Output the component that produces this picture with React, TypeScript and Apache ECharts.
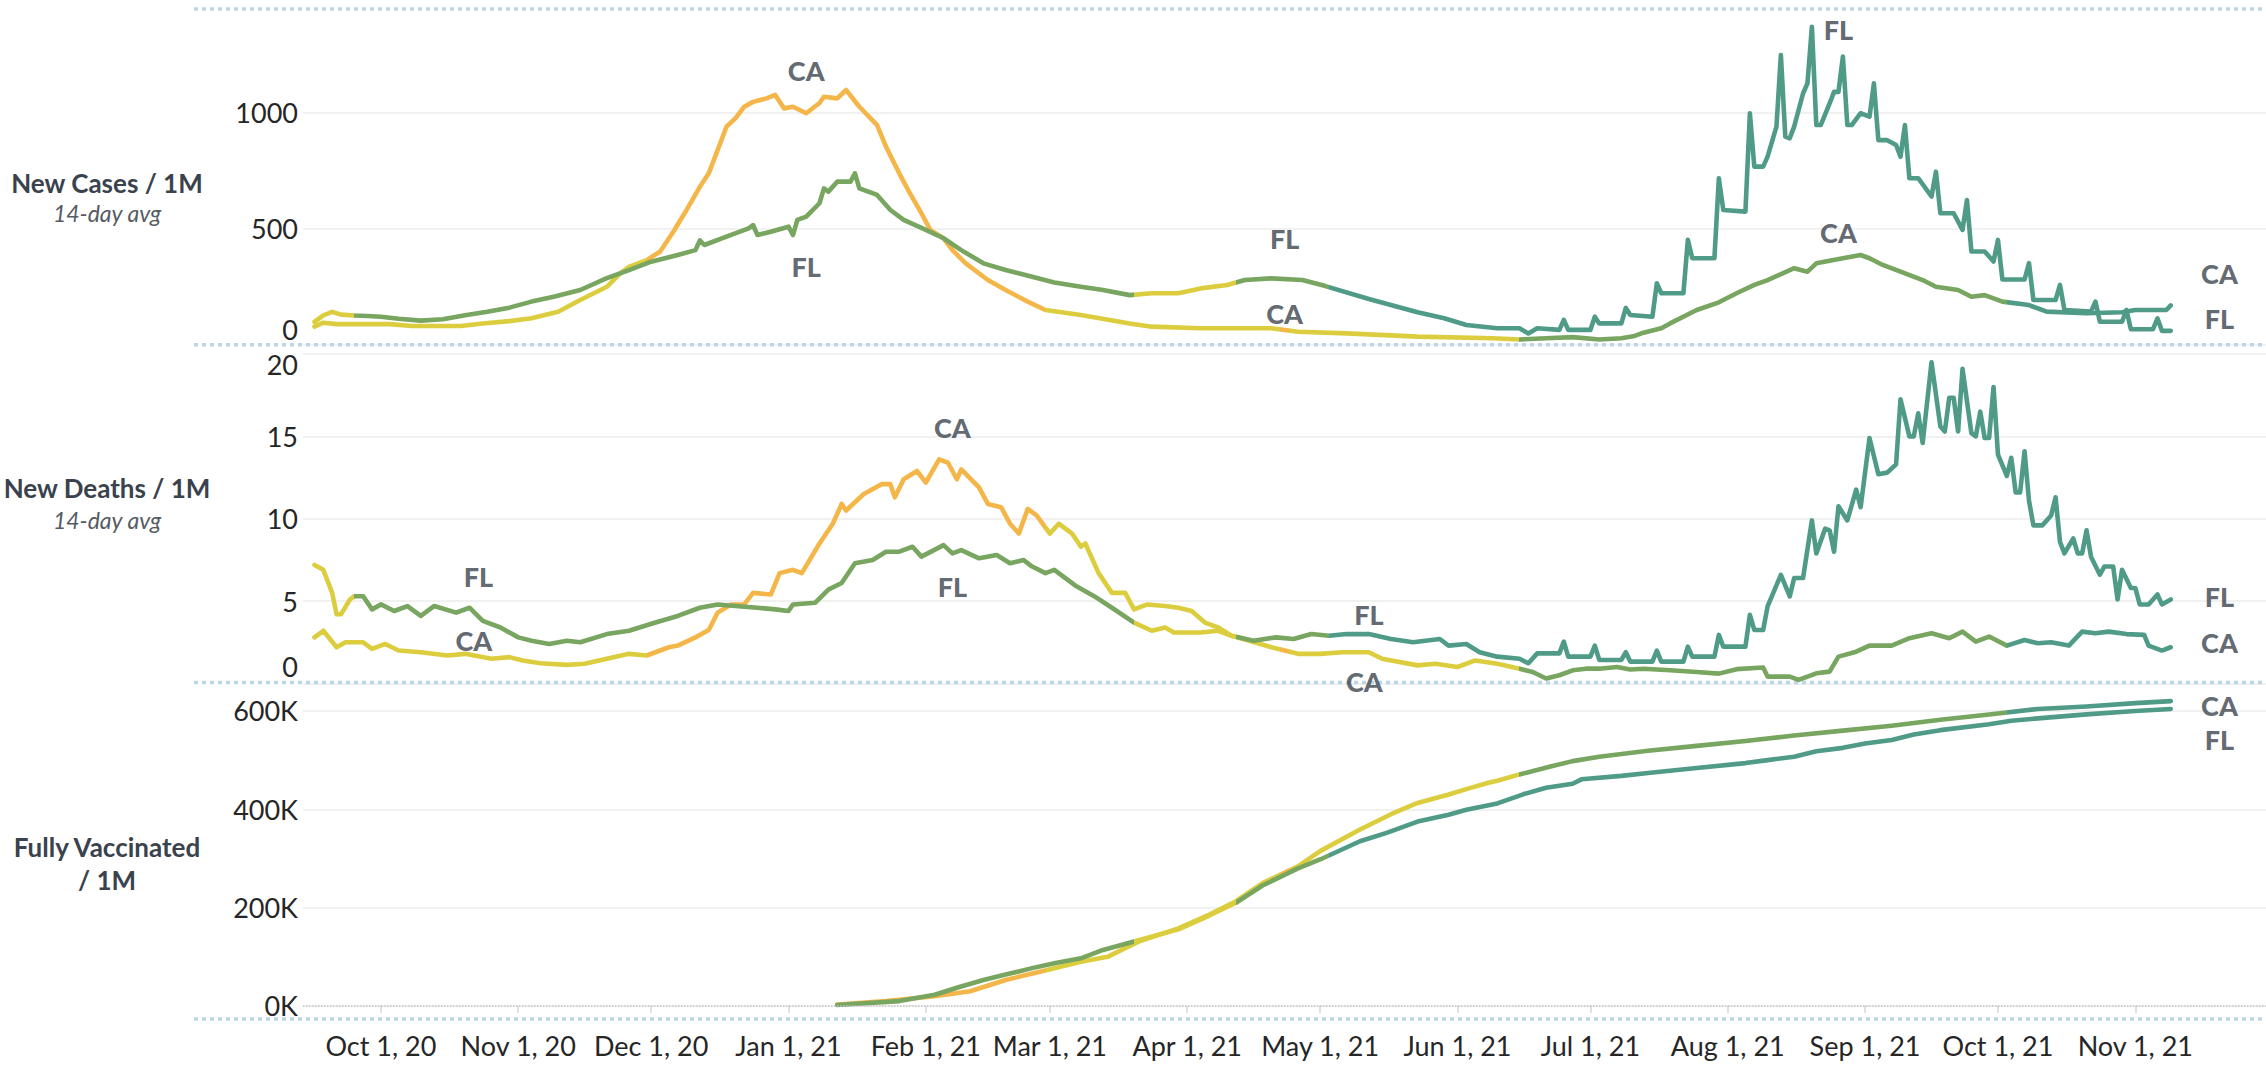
import React, { useEffect, useRef } from 'react';
import * as echarts from 'echarts';

const MONTHS = ['Jan', 'Feb', 'Mar', 'Apr', 'May', 'Jun', 'Jul', 'Aug', 'Sep', 'Oct', 'Nov', 'Dec'];
const monthTicks = ['2020-10-01', '2020-11-01', '2020-12-01', '2021-01-01', '2021-02-01', '2021-03-01', '2021-04-01', '2021-05-01', '2021-06-01', '2021-07-01', '2021-08-01', '2021-09-01', '2021-10-01', '2021-11-01'];
const casesTicks = [0, 500, 1000];
const deathsTicks = [0, 5, 10, 15, 20];
const vaccTicks = [0, 200, 400, 600];

// New cases per 1M (14-day avg)
const caCases: [string, number][] = [
  ['2020-09-16', 76], ['2020-09-18', 93], ['2020-09-21', 87], ['2020-09-28', 87], ['2020-10-03', 87], ['2020-10-08', 79], ['2020-10-15', 79], ['2020-10-19', 79], ['2020-10-24', 90], ['2020-10-30', 100], ['2020-11-04', 112], ['2020-11-10', 140], ['2020-11-15', 191], ['2020-11-21', 248], ['2020-11-24', 306], ['2020-11-26', 334], ['2020-11-30', 363], ['2020-12-03', 399], ['2020-12-06', 485], ['2020-12-09', 579], ['2020-12-12', 679], ['2020-12-14', 737], ['2020-12-16', 837], ['2020-12-18', 938], ['2020-12-20', 974], ['2020-12-22', 1024], ['2020-12-24', 1045], ['2020-12-27', 1060], ['2020-12-29', 1075], ['2020-12-31', 1017], ['2021-01-02', 1024], ['2021-01-05', 996], ['2021-01-08', 1040], ['2021-01-09', 1067], ['2021-01-12', 1060], ['2021-01-14', 1096], ['2021-01-17', 1024], ['2021-01-21', 945], ['2021-01-23', 852], ['2021-01-26', 737], ['2021-01-28', 665], ['2021-01-31', 565], ['2021-02-02', 493], ['2021-02-05', 457], ['2021-02-07', 406], ['2021-02-10', 349], ['2021-02-15', 277], ['2021-02-19', 234], ['2021-02-24', 184], ['2021-02-28', 148], ['2021-03-08', 126], ['2021-03-19', 90], ['2021-03-24', 76], ['2021-04-04', 69], ['2021-04-15', 69], ['2021-04-20', 69], ['2021-04-26', 54], ['2021-05-07', 47], ['2021-05-23', 33], ['2021-06-09', 26], ['2021-06-15', 21], ['2021-06-21', 26], ['2021-06-27', 31], ['2021-07-03', 21], ['2021-07-08', 26], ['2021-07-11', 36], ['2021-07-13', 50], ['2021-07-17', 69], ['2021-07-19', 90], ['2021-07-25', 148], ['2021-07-30', 181], ['2021-08-03', 220], ['2021-08-07', 256], ['2021-08-10', 277], ['2021-08-16', 328], ['2021-08-19', 313], ['2021-08-21', 349], ['2021-08-27', 371], ['2021-08-31', 385], ['2021-09-02', 371], ['2021-09-05', 342], ['2021-09-09', 313], ['2021-09-14', 277], ['2021-09-17', 248], ['2021-09-22', 234], ['2021-09-25', 205], ['2021-09-28', 212], ['2021-10-02', 184], ['2021-10-08', 169], ['2021-10-12', 141], ['2021-10-21', 134], ['2021-10-29', 138], ['2021-11-01', 148], ['2021-11-08', 148], ['2021-11-09', 168],
];
const flCases: [string, number][] = [
  ['2020-09-16', 97], ['2020-09-18', 125], ['2020-09-20', 140], ['2020-09-22', 128], ['2020-09-25', 124], ['2020-09-28', 122], ['2020-10-01', 119], ['2020-10-05', 110], ['2020-10-10', 102], ['2020-10-15', 108], ['2020-10-20', 125], ['2020-10-25', 140], ['2020-10-30', 158], ['2020-11-04', 184], ['2020-11-09', 205], ['2020-11-15', 234], ['2020-11-21', 285], ['2020-11-26', 320], ['2020-12-01', 356], ['2020-12-07', 385], ['2020-12-11', 406], ['2020-12-12', 448], ['2020-12-13', 428], ['2020-12-18', 464], ['2020-12-23', 500], ['2020-12-24', 514], ['2020-12-25', 471], ['2020-12-28', 485], ['2021-01-01', 507], ['2021-01-02', 471], ['2021-01-03', 536], ['2021-01-05', 550], ['2021-01-08', 608], ['2021-01-09', 672], ['2021-01-10', 658], ['2021-01-12', 701], ['2021-01-15', 701], ['2021-01-16', 737], ['2021-01-17', 672], ['2021-01-21', 644], ['2021-01-24', 579], ['2021-01-27', 536], ['2021-02-01', 493], ['2021-02-05', 457], ['2021-02-09', 406], ['2021-02-14', 349], ['2021-02-19', 320], ['2021-02-25', 291], ['2021-03-02', 266], ['2021-03-08', 248], ['2021-03-13', 234], ['2021-03-19', 212], ['2021-03-24', 220], ['2021-03-30', 220], ['2021-04-04', 241], ['2021-04-10', 256], ['2021-04-14', 277], ['2021-04-20', 284], ['2021-04-27', 277], ['2021-05-02', 252], ['2021-05-12', 195], ['2021-05-23', 138], ['2021-05-29', 112], ['2021-06-03', 83], ['2021-06-10', 69],
  ['2021-06-15', 69], ['2021-06-17', 47], ['2021-06-19', 69], ['2021-06-24', 62], ['2021-06-25', 105], ['2021-06-26', 62], ['2021-07-01', 62], ['2021-07-02', 119], ['2021-07-03', 90], ['2021-07-08', 90], ['2021-07-09', 157], ['2021-07-10', 126], ['2021-07-15', 119], ['2021-07-16', 263], ['2021-07-17', 220], ['2021-07-22', 220], ['2021-07-23', 450], ['2021-07-24', 371], ['2021-07-29', 371], ['2021-07-30', 716], ['2021-07-31', 579], ['2021-08-05', 572], ['2021-08-06', 996], ['2021-08-07', 766], ['2021-08-09', 766], ['2021-08-10', 809], ['2021-08-12', 938], ['2021-08-13', 1247], ['2021-08-14', 895], ['2021-08-15', 888], ['2021-08-16', 938], ['2021-08-18', 1081], ['2021-08-19', 1125], ['2021-08-20', 1369], ['2021-08-21', 945], ['2021-08-22', 945], ['2021-08-24', 1038], ['2021-08-25', 1088], ['2021-08-26', 1088], ['2021-08-27', 1240], ['2021-08-28', 945], ['2021-08-29', 945], ['2021-08-31', 996], ['2021-09-02', 981], ['2021-09-03', 1125], ['2021-09-04', 880], ['2021-09-06', 880], ['2021-09-08', 859], ['2021-09-09', 809], ['2021-09-10', 945], ['2021-09-11', 716], ['2021-09-13', 716], ['2021-09-16', 637], ['2021-09-17', 744], ['2021-09-18', 565], ['2021-09-21', 565], ['2021-09-23', 493], ['2021-09-24', 622], ['2021-09-25', 400], ['2021-09-28', 400], ['2021-09-30', 357], ['2021-10-01', 450], ['2021-10-02', 279], ['2021-10-07', 279], ['2021-10-08', 350], ['2021-10-09', 191], ['2021-10-14', 191], ['2021-10-15', 256], ['2021-10-16', 148], ['2021-10-22', 141], ['2021-10-23', 184], ['2021-10-24', 97], ['2021-10-29', 97], ['2021-10-30', 148], ['2021-10-31', 65], ['2021-11-05', 65], ['2021-11-06', 112], ['2021-11-07', 58], ['2021-11-09', 58],
];

// New deaths per 1M (14-day avg)
const caDeaths: [string, number][] = [
  ['2020-09-16', 2.8], ['2020-09-18', 3.2], ['2020-09-21', 2.2], ['2020-09-23', 2.5], ['2020-09-27', 2.5], ['2020-09-29', 2.1], ['2020-10-02', 2.4], ['2020-10-05', 2.0], ['2020-10-10', 1.9], ['2020-10-16', 1.7], ['2020-10-20', 1.8], ['2020-10-26', 1.5], ['2020-10-30', 1.6], ['2020-11-02', 1.4], ['2020-11-06', 1.23], ['2020-11-12', 1.13], ['2020-11-16', 1.2], ['2020-11-21', 1.5], ['2020-11-26', 1.8], ['2020-11-30', 1.7], ['2020-12-05', 2.2], ['2020-12-07', 2.3], ['2020-12-11', 2.8], ['2020-12-14', 3.25], ['2020-12-16', 4.3], ['2020-12-19', 4.8], ['2020-12-22', 4.8], ['2020-12-24', 5.5], ['2020-12-28', 5.4], ['2020-12-30', 6.7], ['2021-01-02', 6.9], ['2021-01-04', 6.7], ['2021-01-08', 8.5], ['2021-01-11', 9.7], ['2021-01-13', 10.9], ['2021-01-14', 10.5], ['2021-01-18', 11.5], ['2021-01-22', 12.1], ['2021-01-24', 12.1], ['2021-01-25', 11.3], ['2021-01-27', 12.4], ['2021-01-30', 12.9], ['2021-02-01', 12.2], ['2021-02-04', 13.6], ['2021-02-06', 13.4], ['2021-02-08', 12.4], ['2021-02-09', 13.0], ['2021-02-13', 11.9], ['2021-02-15', 10.9], ['2021-02-18', 10.7], ['2021-02-20', 9.7], ['2021-02-22', 9.1], ['2021-02-24', 10.6], ['2021-02-26', 10.2], ['2021-03-01', 9.1], ['2021-03-03', 9.7], ['2021-03-06', 9.1], ['2021-03-08', 8.3], ['2021-03-09', 8.5], ['2021-03-12', 6.7], ['2021-03-15', 5.5], ['2021-03-18', 5.5], ['2021-03-20', 4.5], ['2021-03-23', 4.8], ['2021-03-27', 4.7], ['2021-03-30', 4.6], ['2021-04-02', 4.4], ['2021-04-05', 3.7], ['2021-04-08', 3.4], ['2021-04-11', 2.9], ['2021-04-15', 2.6], ['2021-04-20', 2.2], ['2021-04-26', 1.8], ['2021-05-01', 1.8], ['2021-05-06', 1.9], ['2021-05-12', 1.9], ['2021-05-15', 1.5], ['2021-05-23', 1.1], ['2021-05-27', 1.2], ['2021-06-01', 1.0], ['2021-06-05', 1.4], ['2021-06-10', 1.2], ['2021-06-15', 0.9], ['2021-06-18', 0.7], ['2021-06-21', 0.3], ['2021-06-24', 0.5], ['2021-06-27', 0.8], ['2021-06-30', 0.9], ['2021-07-03', 0.9], ['2021-07-07', 1.0], ['2021-07-10', 0.85], ['2021-07-13', 0.9], ['2021-07-19', 0.8], ['2021-07-25', 0.7], ['2021-07-30', 0.6], ['2021-08-03', 0.87], ['2021-08-09', 0.97], ['2021-08-10', 0.42], ['2021-08-15', 0.42], ['2021-08-17', 0.22], ['2021-08-21', 0.62], ['2021-08-24', 0.72], ['2021-08-26', 1.63], ['2021-08-30', 1.93], ['2021-09-02', 2.3], ['2021-09-07', 2.3], ['2021-09-11', 2.75], ['2021-09-16', 3.05], ['2021-09-20', 2.75], ['2021-09-23', 3.15], ['2021-09-26', 2.54], ['2021-09-29', 2.85], ['2021-10-03', 2.3], ['2021-10-07', 2.64], ['2021-10-10', 2.44], ['2021-10-13', 2.5], ['2021-10-17', 2.3], ['2021-10-20', 3.15], ['2021-10-23', 3.05], ['2021-10-26', 3.15], ['2021-10-30', 3.0], ['2021-11-03', 2.95], ['2021-11-04', 2.3], ['2021-11-07', 2.0], ['2021-11-09', 2.2],
];
const flDeaths: [string, number][] = [
  ['2020-09-16', 7.2], ['2020-09-18', 6.9], ['2020-09-20', 5.5], ['2020-09-21', 4.2], ['2020-09-22', 4.2], ['2020-09-24', 5.1], ['2020-09-25', 5.3], ['2020-09-27', 5.3], ['2020-09-29', 4.5], ['2020-10-01', 4.8], ['2020-10-04', 4.4], ['2020-10-07', 4.7], ['2020-10-10', 4.1], ['2020-10-13', 4.7], ['2020-10-18', 4.3], ['2020-10-21', 4.6], ['2020-10-24', 3.8], ['2020-10-28', 3.4], ['2020-11-01', 2.8], ['2020-11-04', 2.6], ['2020-11-08', 2.4], ['2020-11-12', 2.6], ['2020-11-15', 2.5], ['2020-11-21', 3.0], ['2020-11-26', 3.2], ['2020-12-02', 3.7], ['2020-12-07', 4.1], ['2020-12-12', 4.6], ['2020-12-16', 4.8], ['2020-12-20', 4.7], ['2020-12-25', 4.6], ['2020-12-29', 4.5], ['2021-01-01', 4.4], ['2021-01-02', 4.8], ['2021-01-07', 4.9], ['2021-01-10', 5.7], ['2021-01-13', 6.1], ['2021-01-16', 7.3], ['2021-01-20', 7.5], ['2021-01-23', 8.0], ['2021-01-26', 8.0], ['2021-01-29', 8.3], ['2021-01-31', 7.7], ['2021-02-05', 8.4], ['2021-02-07', 7.9], ['2021-02-09', 8.1], ['2021-02-13', 7.6], ['2021-02-17', 7.8], ['2021-02-20', 7.3], ['2021-02-23', 7.5], ['2021-02-25', 7.1], ['2021-02-28', 6.7], ['2021-03-02', 6.9], ['2021-03-07', 5.9], ['2021-03-11', 5.3], ['2021-03-15', 4.6], ['2021-03-20', 3.7], ['2021-03-24', 3.2], ['2021-03-27', 3.4], ['2021-03-29', 3.1], ['2021-04-04', 3.1], ['2021-04-08', 3.2], ['2021-04-11', 2.9], ['2021-04-16', 2.6], ['2021-04-21', 2.8], ['2021-04-25', 2.7], ['2021-04-29', 3.0], ['2021-05-03', 2.9], ['2021-05-07', 3.0], ['2021-05-12', 3.0], ['2021-05-17', 2.7], ['2021-05-22', 2.5], ['2021-05-28', 2.7], ['2021-05-30', 2.3], ['2021-06-03', 2.4], ['2021-06-06', 1.9],
  ['2021-06-10', 1.63], ['2021-06-15', 1.5], ['2021-06-17', 1.23], ['2021-06-19', 1.83], ['2021-06-24', 1.83], ['2021-06-25', 2.54], ['2021-06-26', 1.63], ['2021-07-01', 1.63], ['2021-07-02', 2.3], ['2021-07-03', 1.43], ['2021-07-08', 1.43], ['2021-07-09', 1.9], ['2021-07-10', 1.33], ['2021-07-15', 1.33], ['2021-07-16', 2.0], ['2021-07-17', 1.33], ['2021-07-22', 1.33], ['2021-07-23', 2.24], ['2021-07-24', 1.63], ['2021-07-29', 1.63], ['2021-07-30', 2.95], ['2021-07-31', 2.24], ['2021-08-05', 2.24], ['2021-08-06', 4.17], ['2021-08-07', 3.25], ['2021-08-09', 3.25], ['2021-08-10', 4.68], ['2021-08-13', 6.6], ['2021-08-15', 5.29], ['2021-08-16', 6.4], ['2021-08-18', 6.4], ['2021-08-20', 9.9], ['2021-08-21', 7.9], ['2021-08-23', 9.4], ['2021-08-24', 9.3], ['2021-08-25', 8.0], ['2021-08-26', 10.76], ['2021-08-28', 9.9], ['2021-08-30', 11.77], ['2021-08-31', 10.7], ['2021-09-02', 14.9], ['2021-09-04', 12.7], ['2021-09-06', 12.8], ['2021-09-08', 13.3], ['2021-09-09', 17.25], ['2021-09-11', 15.0], ['2021-09-12', 15.0], ['2021-09-13', 16.4], ['2021-09-14', 14.6], ['2021-09-16', 19.5], ['2021-09-18', 15.6], ['2021-09-19', 15.3], ['2021-09-20', 17.35], ['2021-09-21', 17.35], ['2021-09-22', 15.3], ['2021-09-23', 19.1], ['2021-09-25', 15.2], ['2021-09-26', 15.0], ['2021-09-27', 16.5], ['2021-09-28', 14.9], ['2021-09-29', 14.9], ['2021-09-30', 18.0], ['2021-10-01', 13.9], ['2021-10-03', 12.6], ['2021-10-04', 13.7], ['2021-10-05', 11.6], ['2021-10-06', 11.6], ['2021-10-07', 14.1], ['2021-10-08', 11.1], ['2021-10-09', 9.6], ['2021-10-11', 9.6], ['2021-10-13', 10.2], ['2021-10-14', 11.3], ['2021-10-15', 8.6], ['2021-10-16', 7.9], ['2021-10-18', 8.8], ['2021-10-19', 7.9], ['2021-10-20', 7.9], ['2021-10-21', 9.3], ['2021-10-22', 7.7], ['2021-10-24', 6.6], ['2021-10-25', 7.1], ['2021-10-27', 7.1], ['2021-10-28', 5.1], ['2021-10-29', 6.9], ['2021-10-31', 5.8], ['2021-11-01', 5.8], ['2021-11-02', 4.8], ['2021-11-04', 4.8], ['2021-11-06', 5.4], ['2021-11-07', 4.8], ['2021-11-09', 5.1],
];

// Fully vaccinated per 1M, in thousands
const caVacc: [string, number][] = [
  ['2021-01-12', 3], ['2021-01-23', 10], ['2021-02-03', 20], ['2021-02-11', 30], ['2021-02-19', 53], ['2021-02-27', 70], ['2021-03-08', 90], ['2021-03-14', 100], ['2021-03-21', 131], ['2021-03-30', 158], ['2021-04-06', 186], ['2021-04-12', 213], ['2021-04-18', 250], ['2021-04-26', 284], ['2021-05-01', 315], ['2021-05-10', 359], ['2021-05-17', 390], ['2021-05-23', 413], ['2021-05-30', 430], ['2021-06-03', 441], ['2021-06-08', 454], ['2021-06-10', 458], ['2021-06-15', 471], ['2021-06-22', 487], ['2021-06-27', 498], ['2021-07-03', 507], ['2021-07-14', 519], ['2021-07-25', 529], ['2021-08-05', 539], ['2021-08-16', 550], ['2021-08-27', 560], ['2021-09-07', 570], ['2021-09-18', 582], ['2021-09-29', 593], ['2021-10-10', 604], ['2021-10-21', 609], ['2021-11-01', 616], ['2021-11-09', 620],
];
const flVacc: [string, number][] = [
  ['2021-01-12', 2], ['2021-01-26', 10], ['2021-02-03', 23], ['2021-02-08', 37], ['2021-02-14', 53], ['2021-02-19', 64], ['2021-02-25', 77], ['2021-03-02', 87], ['2021-03-08', 97], ['2021-03-13', 114], ['2021-03-20', 131], ['2021-03-30', 156], ['2021-04-06', 184], ['2021-04-12', 210], ['2021-04-18', 245], ['2021-04-26', 280], ['2021-05-01', 298], ['2021-05-10', 335], ['2021-05-16', 352], ['2021-05-23', 375], ['2021-05-30', 389], ['2021-06-03', 399], ['2021-06-10', 412], ['2021-06-16', 431], ['2021-06-21', 444], ['2021-06-27', 452], ['2021-06-29', 461], ['2021-07-08', 468], ['2021-07-14', 474], ['2021-07-25', 484], ['2021-08-05', 494], ['2021-08-10', 500], ['2021-08-16', 507], ['2021-08-21', 518], ['2021-08-27', 525], ['2021-09-01', 534], ['2021-09-07', 541], ['2021-09-12', 552], ['2021-09-18', 561], ['2021-09-29', 573], ['2021-10-04', 580], ['2021-10-10', 585], ['2021-10-21', 593], ['2021-11-01', 600], ['2021-11-09', 604],
];

// colour category per state, from the given date on
const caColorBreaks: [string, string][] = [['2020-01-01', 'yellow'], ['2020-11-30', 'orange'], ['2021-02-28', 'yellow'], ['2021-04-22', 'orange'], ['2021-04-24', 'yellow'], ['2021-06-15', 'green'], ['2021-10-03', 'teal']];
const flColorBreaks: [string, string][] = [['2020-01-01', 'yellow'], ['2020-09-25', 'green'], ['2021-03-20', 'yellow'], ['2021-04-12', 'green'], ['2021-05-03', 'teal']];

// inline state labels [date, value, text]
const casesLabels: [string, number, string][] = [['2021-01-05', 1182, 'CA'], ['2021-01-05', 337, 'FL'], ['2021-04-23', 454, 'FL'], ['2021-04-23', 131, 'CA'], ['2021-08-26', 1359, 'FL'], ['2021-08-26', 480, 'CA'], ['2021-11-20', 307, 'CA'], ['2021-11-20', 113, 'FL']];
const deathsLabels: [string, number, string][] = [['2020-10-23', 6.48, 'FL'], ['2020-10-22', 2.64, 'CA'], ['2021-02-07', 15.57, 'CA'], ['2021-02-07', 5.88, 'FL'], ['2021-05-12', 4.16, 'FL'], ['2021-05-11', 0.11, 'CA'], ['2021-11-20', 5.27, 'FL'], ['2021-11-20', 2.48, 'CA']];
const vaccLabels: [string, number, string][] = [['2021-11-20', 612, 'CA'], ['2021-11-20', 541, 'FL']];

const COLORS: Record<string, string> = { yellow: '#dccd3f', orange: '#f4b649', green: '#78a55f', teal: '#4f9b87' };
const FONT = 'Lato, "Open Sans", sans-serif';
const TICK_COLOR = '#262626';
const TITLE_COLOR = '#3a424d';

function ts(s: string): number {
  const [d, t] = s.split(' ');
  const [y, m, dd] = d.split('-').map(Number);
  let h = 0, mi = 0;
  if (t) [h, mi] = t.split(':').map(Number);
  return new Date(y, m - 1, dd, h, mi).getTime();
}
function pieces(breaks: [string, string][]) {
  return breaks.map(([from, c], i) => {
    const p: any = { gte: ts(from), color: COLORS[c] };
    if (i < breaks.length - 1) p.lt = ts(breaks[i + 1][0]);
    return p;
  });
}
const toData = (arr: [string, number][]) => arr.map(([d, v]) => [ts(d), v]);

export default function App() {
  const ref = useRef<HTMLDivElement>(null);
  useEffect(() => {
    document.body.style.margin = '0';
    const chart = echarts.init(ref.current!, undefined, { renderer: 'svg' });
    const X_MIN = ts('2020-09-13 10:00');
    const X_MAX = ts('2021-11-30 12:00');
    const grids = [
      { left: 303, right: 0, top: 9, height: 335.3 },
      { left: 303, right: 0, top: 344.8, height: 338.7 },
      { left: 303, right: 0, top: 682.5, height: 336.5 },
    ];
    const labelBase = { fontSize: 27, color: TICK_COLOR, fontFamily: FONT };
    const monthVals = monthTicks.map(ts);
    const xAxis = [0, 1, 2].map((i) => ({
      type: 'value', gridIndex: i, min: X_MIN, max: X_MAX, show: i === 2,
      axisLine: { show: false },
      axisTick: { show: i === 2, customValues: monthVals, length: 7, lineStyle: { color: '#d6d6d6', width: 1.5 } },
      splitLine: { show: false },
      axisLabel: {
        show: i === 2, customValues: monthVals, margin: 13, ...labelBase,
        formatter: (v: number) => { const d = new Date(v); return `${MONTHS[d.getMonth()]} ${d.getDate()}, ${String(d.getFullYear()).slice(2)}`; },
      },
    }));
    const splitLine = { show: true, lineStyle: { color: '#ececec', width: 1.5 } };
    const yAxis = [
      {
        type: 'value', gridIndex: 0, min: 0, max: 1445.3,
        axisLine: { show: false }, axisTick: { show: false, customValues: casesTicks }, splitLine,
        axisLabel: { customValues: casesTicks, margin: 5, ...labelBase, formatter: (v: number) => (v === 0 ? '{lo|0}' : String(v)), rich: { lo: { ...labelBase, padding: [0, 0, 30, 0] } } },
      },
      {
        type: 'value', gridIndex: 1, min: 0, max: 20.56,
        axisLine: { show: false }, axisTick: { show: false, customValues: deathsTicks }, splitLine,
        axisLabel: { customValues: deathsTicks, margin: 5, ...labelBase, formatter: (v: number) => (v === 0 ? '{lo|0}' : v === 20 ? '{hi|20}' : String(v)), rich: { lo: { ...labelBase, padding: [0, 0, 35, 0] }, hi: { ...labelBase, padding: [20, 0, 0, 0] } } },
      },
      {
        type: 'value', gridIndex: 2, min: -26.44, max: 657.9,
        axisLine: { show: false }, axisTick: { show: false, customValues: vaccTicks }, splitLine,
        axisLabel: { customValues: vaccTicks, margin: 5, ...labelBase, formatter: (v: number) => `${v}K` },
      },
    ];
    const lineSeries = (data: [string, number][], idx: number, extra: any = {}) => ({
      type: 'line', xAxisIndex: idx, yAxisIndex: idx, data: toData(data), showSymbol: false, symbol: 'none',
      lineStyle: { width: 4.6, cap: 'round', join: 'round' }, smooth: false, silent: true, ...extra,
    });
    const labelSeries = (labels: [string, number, string][], idx: number) => ({
      type: 'scatter', xAxisIndex: idx, yAxisIndex: idx, symbol: 'circle', symbolSize: 1, silent: true, z: 5,
      itemStyle: { color: 'rgba(0,0,0,0)' },
      data: labels.map(([d, v, t]) => ({ name: t, value: [ts(d), v] })),
      label: { show: true, position: 'inside', formatter: '{b}', fontSize: 27, fontWeight: 900, color: TITLE_COLOR, fontFamily: FONT },
    });
    const series = [
      lineSeries(caCases, 0), lineSeries(flCases, 0),
      lineSeries(caDeaths, 1), lineSeries(flDeaths, 1),
      lineSeries(caVacc, 2),
      lineSeries(flVacc, 2, { markLine: { silent: true, symbol: 'none', label: { show: false }, lineStyle: { type: 'dotted', color: '#c4c4c4', width: 1.5 }, data: [{ yAxis: 0 }] } }),
      labelSeries(casesLabels, 0), labelSeries(deathsLabels, 1), labelSeries(vaccLabels, 2),
    ];
    const visualMap = [0, 1, 2, 3, 4, 5].map((k) => ({
      type: 'piecewise', show: false, dimension: 0, seriesIndex: k,
      pieces: pieces(k % 2 === 0 ? caColorBreaks : flColorBreaks),
    }));
    const sepYs = [9, 344.8, 682.5, 1019];
    const titleText = (text: string, y: number, font: string, fill: string) => ({
      type: 'text', x: 107, y, silent: true,
      style: { text, font, fill, textAlign: 'center', textVerticalAlign: 'middle', verticalAlign: 'middle' },
    });
    const graphic = [
      ...sepYs.map((y) => ({ type: 'line', silent: true, z: 1, shape: { x1: 194, y1: y, x2: 2266, y2: y }, style: { stroke: '#bcd6e8', lineWidth: 3.5, lineDash: [4, 4] } })),
      titleText('New Cases / 1M', 183, `bold 26px ${FONT}`, TITLE_COLOR),
      titleText('14-day avg', 213, `italic 23px ${FONT}`, '#555b62'),
      titleText('New Deaths / 1M', 488, `bold 26px ${FONT}`, TITLE_COLOR),
      titleText('14-day avg', 520, `italic 23px ${FONT}`, '#555b62'),
      titleText('Fully Vaccinated', 847, `bold 26px ${FONT}`, TITLE_COLOR),
      titleText('/ 1M', 880, `bold 26px ${FONT}`, TITLE_COLOR),
    ];
    chart.setOption({
      animation: false,
      backgroundColor: '#ffffff',
      textStyle: { fontFamily: FONT },
      grid: grids, xAxis, yAxis, series, visualMap, graphic,
    } as any);
    return () => chart.dispose();
  }, []);
  return <div ref={ref} style={{ position: 'fixed', left: 0, top: 0, width: 2266, height: 1066 }} />;
}
